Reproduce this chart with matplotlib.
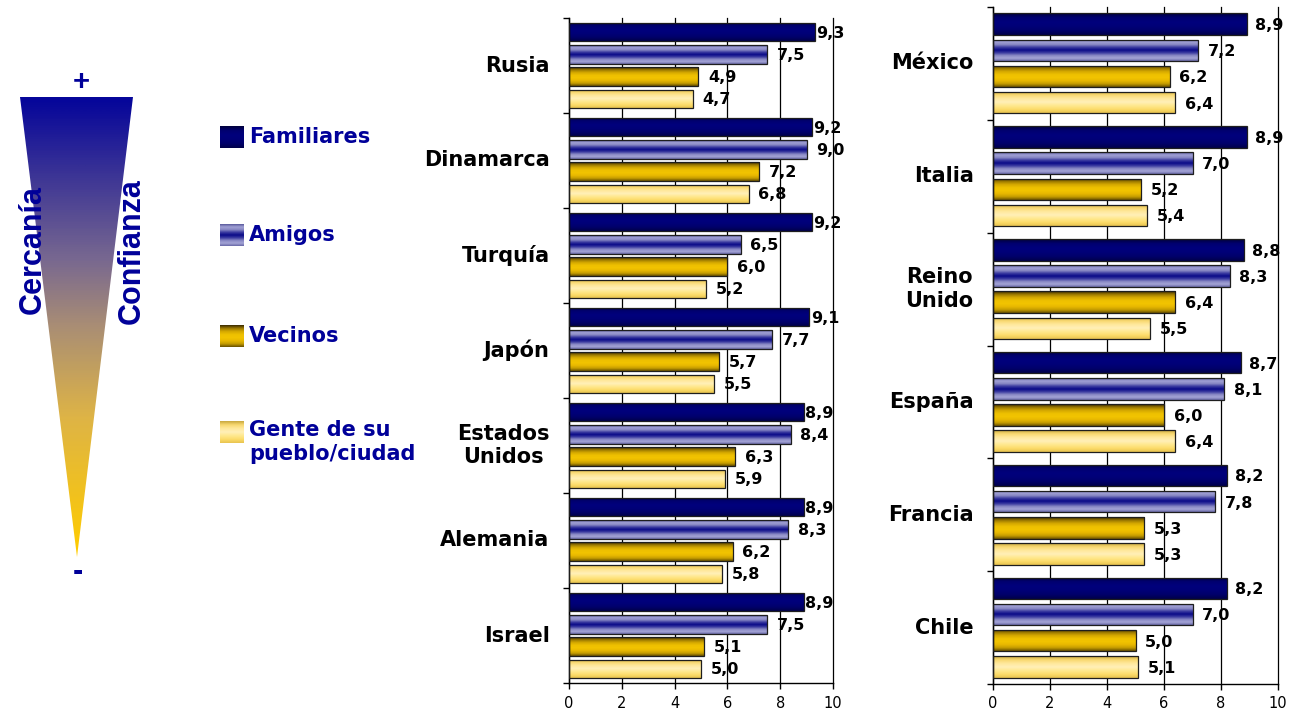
import numpy as np
import matplotlib
matplotlib.use("Agg")
import matplotlib.pyplot as plt
from matplotlib.colors import LinearSegmentedColormap
from matplotlib.patches import Polygon

# ---- data -------------------------------------------------------------
series = ["Familiares", "Amigos", "Vecinos", "Gente de su\npueblo/ciudad"]

left_countries = ["Rusia", "Dinamarca", "Turquía", "Japón",
                  "Estados\nUnidos", "Alemania", "Israel"]
left_familiares = [9.3, 9.2, 9.2, 9.1, 8.9, 8.9, 8.9]
left_amigos = [7.5, 9.0, 6.5, 7.7, 8.4, 8.3, 7.5]
left_vecinos = [4.9, 7.2, 6.0, 5.7, 6.3, 6.2, 5.1]
left_gente = [4.7, 6.8, 5.2, 5.5, 5.9, 5.8, 5.0]

right_countries = ["México", "Italia", "Reino\nUnido", "España",
                   "Francia", "Chile"]
right_familiares = [8.9, 8.9, 8.8, 8.7, 8.2, 8.2]
right_amigos = [7.2, 7.0, 8.3, 8.1, 7.8, 7.0]
right_vecinos = [6.2, 5.2, 6.4, 6.0, 5.3, 5.0]
right_gente = [6.4, 5.4, 5.5, 6.4, 5.3, 5.1]

x_ticks = [0, 2, 4, 6, 8, 10]

# ---- styles -----------------------------------------------------------
NAVY_TEXT = "#000099"
profiles = [
    ["#00003c", "#000070", "#00007c", "#000078", "#00006a", "#00004a"],
    ["#5a5a9c", "#a0a0d4", "#8888c4", "#3a3aa0", "#0a0a88", "#3a3aa0",
     "#8888c4", "#a4a4d6", "#6a6aa8"],
    ["#3a2a00", "#9a7800", "#d4a800", "#eec000", "#f2c400", "#e8b800",
     "#c49c00", "#6a5200"],
    ["#c8a840", "#f8d870", "#ffe89c", "#fff0b8", "#ffe88e", "#fcdc6a",
     "#e8c450"],
]
cmaps = [LinearSegmentedColormap.from_list(f"s{i}", p) for i, p in enumerate(profiles)]
grad = np.linspace(0, 1, 80).reshape(-1, 1)

plt.rcParams["font.family"] = ["DejaVu Sans"]

fig = plt.figure(figsize=(12.99, 7.17), dpi=100)
fig.patch.set_facecolor("white")

# decorative layer in pixel coordinates (triangle and legend)
deco = fig.add_axes([0, 0, 1, 1])
deco.axis("off")
deco.patch.set_alpha(0)

tri = Polygon([[20, 97], [133, 97], [77, 557]], closed=True,
              facecolor="none", edgecolor="none")
deco.add_patch(tri)
tri_cmap = LinearSegmentedColormap.from_list(
    "tri", [(0.0, "#06069a"), (0.35, "#786890"), (0.5, "#aa8e74"),
            (0.7, "#deb446"), (1.0, "#ffcc00")])
im = deco.imshow(grad, cmap=tri_cmap, extent=[20, 133, 557, 97],
                 aspect="auto", origin="upper", interpolation="bilinear")
im.set_clip_path(tri)

side_font = dict(family=["Liberation Sans", "DejaVu Sans"], fontweight="bold",
                 fontsize=22, color=NAVY_TEXT, rotation=90,
                 ha="center", va="center")
deco.text(33, 250, "Cercanía", **side_font)
deco.text(132, 251, "Confianza", **side_font)
deco.text(81, 82, "+", fontsize=21, fontweight="bold", color=NAVY_TEXT,
          ha="center", va="center", family=["Liberation Sans", "DejaVu Sans"])
deco.text(78, 572, "-", fontsize=22, fontweight="bold", color=NAVY_TEXT,
          ha="center", va="center", family=["Liberation Sans", "DejaVu Sans"])

# legend swatches and labels
legend_y = [137, 235, 336, 432]
for k, (name, yc) in enumerate(zip(series, legend_y)):
    deco.imshow(grad, cmap=cmaps[k], extent=[220, 244, yc + 11, yc - 11],
                aspect="auto", origin="upper", interpolation="bilinear")
    ty = yc + 10 if "\n" in name else yc
    deco.text(249, ty, name, fontsize=15, fontweight="bold", color=NAVY_TEXT,
              ha="left", va="center", linespacing=1.25)
deco.set_xlim(0, 1299)
deco.set_ylim(717, 0)


def draw_panel(rect, countries, values, fam_offset):
    ax = fig.add_axes(rect)
    ax.patch.set_alpha(0)
    n = len(countries)
    pitch, h = 0.232, 0.19
    for j in range(4):
        centers = [i + 0.5 + (j - 1.5) * pitch for i in range(n)]
        bars = ax.barh(centers, values[j], height=h, facecolor="none",
                       edgecolor="#1e1e1e", linewidth=0.9, zorder=3)
        for bar, v, yc in zip(bars, values[j], centers):
            y0 = bar.get_y()
            img = ax.imshow(grad, cmap=cmaps[j],
                            extent=[0, bar.get_width(), y0 + h, y0],
                            aspect="auto", origin="upper",
                            interpolation="bilinear", zorder=2)
            img.set_clip_path(bar)
            off = fam_offset if j == 0 else 7
            ax.annotate(f"{v:.1f}".replace(".", ","), xy=(v, yc),
                        xytext=(off, -1), textcoords="offset points",
                        ha="left", va="center", fontsize=11.5,
                        fontweight="bold", color="black", zorder=4,
                        annotation_clip=False)
    for i, c in enumerate(countries):
        ax.annotate(c, xy=(0, i + 0.5), xycoords=("axes fraction", "data"),
                    xytext=(-14, 0), textcoords="offset points",
                    ha="right", va="center", multialignment="center",
                    fontsize=15, fontweight="bold", color="black",
                    linespacing=1.2)
    ax.set_xlim(0, 10)
    ax.set_ylim(n, 0)
    ax.set_xticks(x_ticks)
    ax.set_xticklabels([str(t) for t in x_ticks], fontsize=10.5)
    ax.set_yticks(range(n + 1))
    ax.set_yticklabels([])
    ax.tick_params(axis="x", direction="out", length=4, width=1, pad=5,
                   colors="black")
    ax.tick_params(axis="y", direction="out", length=4, width=1)
    ax.xaxis.grid(True, color="black", linewidth=0.9)
    for gl in ax.get_xgridlines():
        gl.set_clip_on(False)
    ax.set_axisbelow(True)
    for s in ("top", "right"):
        ax.spines[s].set_visible(False)
    for s in ("left", "bottom"):
        ax.spines[s].set_color("black")
        ax.spines[s].set_linewidth(1)
    return ax


draw_panel([569 / 1299, 1 - 683 / 717, 264 / 1299, 665 / 717],
           left_countries,
           [left_familiares, left_amigos, left_vecinos, left_gente], 1)
draw_panel([993 / 1299, 1 - 684 / 717, 285 / 1299, 677 / 717],
           right_countries,
           [right_familiares, right_amigos, right_vecinos, right_gente], 6)

fig.savefig("out.png", dpi=100, facecolor="white")
